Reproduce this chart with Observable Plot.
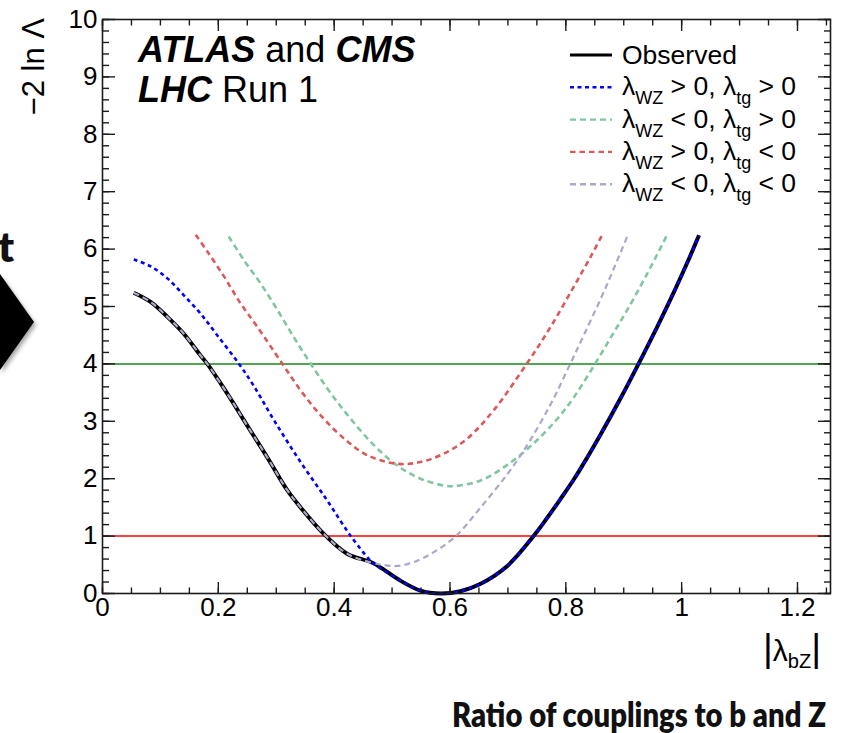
<!DOCTYPE html>
<html>
<head>
<meta charset="utf-8">
<script src="https://cdn.jsdelivr.net/npm/d3@7"></script>
<script src="https://cdn.jsdelivr.net/npm/@observablehq/plot@0.6"></script>
<style>
  html, body { margin: 0; padding: 0; background: #fff; }
  #chart { width: 843px; height: 733px; overflow: hidden; }
</style>
</head>
<body>
<div id="chart"></div>
<script>
// ---------------- data ----------------
const observedX = [0.054, 0.083, 0.112, 0.140, 0.169, 0.181, 0.204, 0.227, 0.244, 0.284, 0.319, 0.342, 0.382, 0.423, 0.467, 0.515, 0.549, 0.584, 0.618, 0.653, 0.699, 0.745, 0.768, 0.791, 0.814, 0.837, 0.860, 0.895, 0.926, 0.958, 0.987, 1.010, 1.030];
const observedY = [5.24, 5.08, 4.82, 4.53, 4.15, 4.00, 3.66, 3.30, 3.02, 2.38, 1.80, 1.50, 1.04, 0.69, 0.53, 0.22, 0.05, 0.00, 0.04, 0.17, 0.48, 1.01, 1.32, 1.65, 1.99, 2.37, 2.77, 3.41, 4.01, 4.65, 5.26, 5.77, 6.24];

const posPosX = [0.054, 0.083, 0.112, 0.140, 0.169, 0.198, 0.235, 0.261, 0.296, 0.342, 0.388, 0.428, 0.460, 0.467, 0.515, 0.549, 0.584, 0.618, 0.653, 0.699, 0.745, 0.768, 0.791, 0.814, 0.837, 0.860, 0.895, 0.926, 0.958, 0.987, 1.010, 1.030];
const posPosY = [5.82, 5.70, 5.49, 5.20, 4.88, 4.50, 4.01, 3.62, 3.02, 2.29, 1.62, 1.01, 0.60, 0.53, 0.22, 0.05, 0.00, 0.04, 0.17, 0.48, 1.01, 1.32, 1.65, 1.99, 2.37, 2.77, 3.41, 4.01, 4.65, 5.26, 5.77, 6.24];

const negPosX = [0.218, 0.244, 0.273, 0.302, 0.330, 0.359, 0.394, 0.428, 0.469, 0.509, 0.549, 0.590, 0.607, 0.653, 0.699, 0.745, 0.785, 0.814, 0.851, 0.880, 0.906, 0.941, 0.975];
const negPosY = [6.22, 5.81, 5.40, 4.94, 4.47, 4.01, 3.49, 3.05, 2.58, 2.23, 2.00, 1.88, 1.87, 1.97, 2.24, 2.62, 3.04, 3.42, 4.01, 4.50, 4.94, 5.58, 6.25];

const posNegX = [0.161, 0.181, 0.210, 0.238, 0.267, 0.310, 0.342, 0.377, 0.417, 0.457, 0.509, 0.549, 0.590, 0.630, 0.676, 0.733, 0.774, 0.814, 0.843, 0.863];
const posNegY = [6.25, 5.96, 5.52, 5.06, 4.65, 4.01, 3.54, 3.10, 2.70, 2.41, 2.26, 2.29, 2.44, 2.70, 3.20, 4.01, 4.65, 5.35, 5.87, 6.25];

const negNegX = [0.054, 0.083, 0.112, 0.140, 0.169, 0.181, 0.204, 0.227, 0.244, 0.284, 0.319, 0.342, 0.382, 0.423, 0.467, 0.490, 0.510, 0.538, 0.572, 0.610, 0.653, 0.699, 0.728, 0.774, 0.808, 0.831, 0.860, 0.877, 0.906];
const negNegY = [5.24, 5.08, 4.82, 4.53, 4.15, 4.00, 3.66, 3.30, 3.02, 2.38, 1.80, 1.50, 1.04, 0.69, 0.53, 0.49, 0.48, 0.55, 0.72, 1.00, 1.50, 2.08, 2.50, 3.30, 4.01, 4.50, 5.13, 5.52, 6.22];

const thresholdLevels = [1, 4];

const xMajorTicks = [0, 0.2, 0.4, 0.6, 0.8, 1, 1.2];
const xTickLabels = ["0", "0.2", "0.4", "0.6", "0.8", "1", "1.2"];
const xMinorTicks = d3.range(26).map(i => i * 0.05);
const yMajorTicks = [0, 1, 2, 3, 4, 5, 6, 7, 8, 9, 10];
const yTickLabels = ["0", "1", "2", "3", "4", "5", "6", "7", "8", "9", "10"];
const yMinorTicks = d3.range(51).map(i => i * 0.2);

const legendLabels = [
  "Observed",
  "λ_{WZ} > 0, λ_{tg} > 0",
  "λ_{WZ} < 0, λ_{tg} > 0",
  "λ_{WZ} > 0, λ_{tg} < 0",
  "λ_{WZ} < 0, λ_{tg} < 0"
];
const yAxisTitle = "−2 ln Λ";
const xAxisTitle = "|λ_{bZ}|";
const experimentLines = ["*ATLAS* and *CMS*", "*LHC* Run 1"];
const slideTitle = "Ratio of couplings to b and Z";
const slideFragment = "t";

// ---------------- styling / layout ----------------
const W = 843, H = 733;
const mL = 102, mR = 13, mT = 19, mB = 140;
const xMax = 1.257;
const FONT = "'Liberation Sans', Arial, Helvetica, sans-serif";
const AXIS_COL = "#1c1c1c";

const seriesStyle = [
  {stroke: "#000000", width: 4, dash: null, legendWidth: 3},
  {stroke: "#0000ff", width: 2.6, dash: "4,3.5"},
  {stroke: "#80c6a0", width: 2.6, dash: "6,4"},
  {stroke: "#d95a5a", width: 2.6, dash: "5.5,4"},
  {stroke: "#a9a9c8", width: 2.6, dash: "6,4"}
];
const thresholdColors = ["#ff0000", "#14891a"];

const rows = (xs, ys) => xs.map((x, i) => ({x, y: ys[i]}));
const observed = rows(observedX, observedY);
const posPos = rows(posPosX, posPosY);
const negPos = rows(negPosX, negPosY);
const posNeg = rows(posNegX, posNegY);
const negNeg = rows(negNegX, negNegY);

const lineOpts = (s) => ({x: "x", y: "y", stroke: s.stroke, strokeWidth: s.width,
  strokeDasharray: s.dash, curve: "catmull-rom", strokeLinecap: "butt"});

const tickStyle = {stroke: AXIS_COL, strokeWidth: 1.4, label: null, tickFormat: () => ""};

const chart = Plot.plot({
  width: W, height: H,
  marginLeft: mL, marginRight: mR, marginTop: mT, marginBottom: mB,
  x: {domain: [0, xMax]},
  y: {domain: [0, 10]},
  style: {fontFamily: FONT, fontSize: "26px", color: "#000", background: "#fff"},
  marks: [
    Plot.ruleY(thresholdLevels, {y: d => d, stroke: (d, i) => thresholdColors[i], strokeWidth: 1.5}),
    Plot.line(negPos, lineOpts(seriesStyle[2])),
    Plot.line(posNeg, lineOpts(seriesStyle[3])),
    Plot.line(observed, lineOpts(seriesStyle[0])),
    Plot.line(negNeg, {...lineOpts(seriesStyle[4]), strokeWidth: 2.2}),
    Plot.line(posPos, lineOpts(seriesStyle[1])),
    Plot.frame({stroke: AXIS_COL, strokeWidth: 1.6}),
    // labels
    Plot.axisX(xMajorTicks, {anchor: "bottom", tickSize: 0, tickPadding: 4, label: null,
      tickFormat: d => xTickLabels[xMajorTicks.indexOf(d)], fontSize: 26}),
    Plot.axisY(yMajorTicks, {anchor: "left", tickSize: 0, tickPadding: 5, label: null,
      tickFormat: d => yTickLabels[yMajorTicks.indexOf(d)], fontSize: 26}),
    // inward ticks on all four sides
    Plot.axisX(xMajorTicks, {anchor: "bottom", tickSize: -11, ...tickStyle}),
    Plot.axisX(xMinorTicks, {anchor: "bottom", tickSize: -5.5, ...tickStyle}),
    Plot.axisX(xMajorTicks, {anchor: "top", tickSize: -11, ...tickStyle}),
    Plot.axisX(xMinorTicks, {anchor: "top", tickSize: -5.5, ...tickStyle}),
    Plot.axisY(yMajorTicks, {anchor: "left", tickSize: -13, ...tickStyle}),
    Plot.axisY(yMinorTicks, {anchor: "left", tickSize: -7, ...tickStyle}),
    Plot.axisY(yMajorTicks, {anchor: "right", tickSize: -13, ...tickStyle}),
    Plot.axisY(yMinorTicks, {anchor: "right", tickSize: -7, ...tickStyle})
  ]
});

document.getElementById("chart").appendChild(chart);
const svg = d3.select(chart);

// rich text helper: "_{...}" -> subscript, "*...*" -> bold italic, "|" -> tall bar
function richText(sel, str, o) {
  const parts = str.split(/_\{([^}]*)\}/);
  let lowered = false;
  parts.forEach((p, i) => {
    if (p === "") return;
    const isSub = i % 2 === 1;
    if (isSub) {
      const t = sel.append("tspan").text(p).attr("font-size", o.sub);
      if (!lowered) { t.attr("dy", o.subDy); lowered = true; }
    } else {
      const chunks = p.split(/(\*[^*]+\*|\|)/).filter(c => c !== "");
      chunks.forEach((c) => {
        let t;
        if (c.startsWith("*")) {
          t = sel.append("tspan").text(c.slice(1, -1)).attr("font-weight", "bold").attr("font-style", "italic");
        } else if (c === "|" && o.bar) {
          t = sel.append("tspan").text(c).attr("font-size", o.bar);
        } else {
          t = sel.append("tspan").text(c);
        }
        if (lowered) { t.attr("dy", -o.subDy); lowered = false; }
      });
    }
  });
}

// y axis title (rotated)
svg.append("text")
  .attr("transform", "translate(44,18) rotate(-90)")
  .attr("text-anchor", "end")
  .attr("font-family", FONT).attr("font-size", 31)
  .text(yAxisTitle);

// x axis title
const xt = svg.append("text")
  .attr("x", 821).attr("y", 661)
  .attr("text-anchor", "end")
  .attr("font-family", FONT).attr("font-size", 30);
richText(xt, xAxisTitle, {sub: 20, subDy: 7, bar: 38});

// experiment label
experimentLines.forEach((line, i) => {
  const t = svg.append("text")
    .attr("x", 138).attr("y", 62 + i * 40)
    .attr("text-anchor", "start")
    .attr("font-family", FONT).attr("font-size", 36);
  richText(t, line, {sub: 24, subDy: 8});
});

// legend
const legend = svg.append("g");
legendLabels.forEach((lab, i) => {
  const s = seriesStyle[i];
  const cy = 55 + i * 32.3;
  legend.append("line")
    .attr("x1", 570).attr("x2", 612).attr("y1", cy).attr("y2", cy)
    .attr("stroke", s.stroke).attr("stroke-width", s.legendWidth || 2.4)
    .attr("stroke-dasharray", s.dash);
  const t = legend.append("text")
    .attr("x", 622).attr("y", cy + (i === 0 ? 9 : 8))
    .attr("text-anchor", "start")
    .attr("font-family", FONT).attr("font-size", 26.5);
  richText(t, lab, {sub: 18, subDy: 9});
});

// slide remnants outside the plot
const defs = svg.append("defs");
const f = defs.append("filter").attr("id", "shadow").attr("x", "-50%").attr("y", "-50%").attr("width", "200%").attr("height", "200%");
f.append("feDropShadow").attr("dx", 2).attr("dy", 3).attr("stdDeviation", 2.2).attr("flood-color", "#000").attr("flood-opacity", 0.35);
svg.append("path")
  .attr("d", "M0,274 L34,322 L0,370 Z")
  .attr("fill", "#000").attr("filter", "url(#shadow)");
svg.append("text")
  .attr("x", -2).attr("y", 262)
  .attr("text-anchor", "start")
  .attr("font-family", "Lato, 'Open Sans', sans-serif").attr("font-weight", 800).attr("font-size", 42)
  .attr("fill", "#111")
  .text(slideFragment);

svg.append("text")
  .attr("x", 826).attr("y", 727)
  .attr("text-anchor", "end")
  .attr("font-family", "Lato, 'Open Sans', sans-serif").attr("font-weight", 800).attr("font-size", 33)
  .attr("textLength", 374).attr("lengthAdjust", "spacingAndGlyphs")
  .attr("fill", "#111")
  .text(slideTitle);
</script>
</body>
</html>
